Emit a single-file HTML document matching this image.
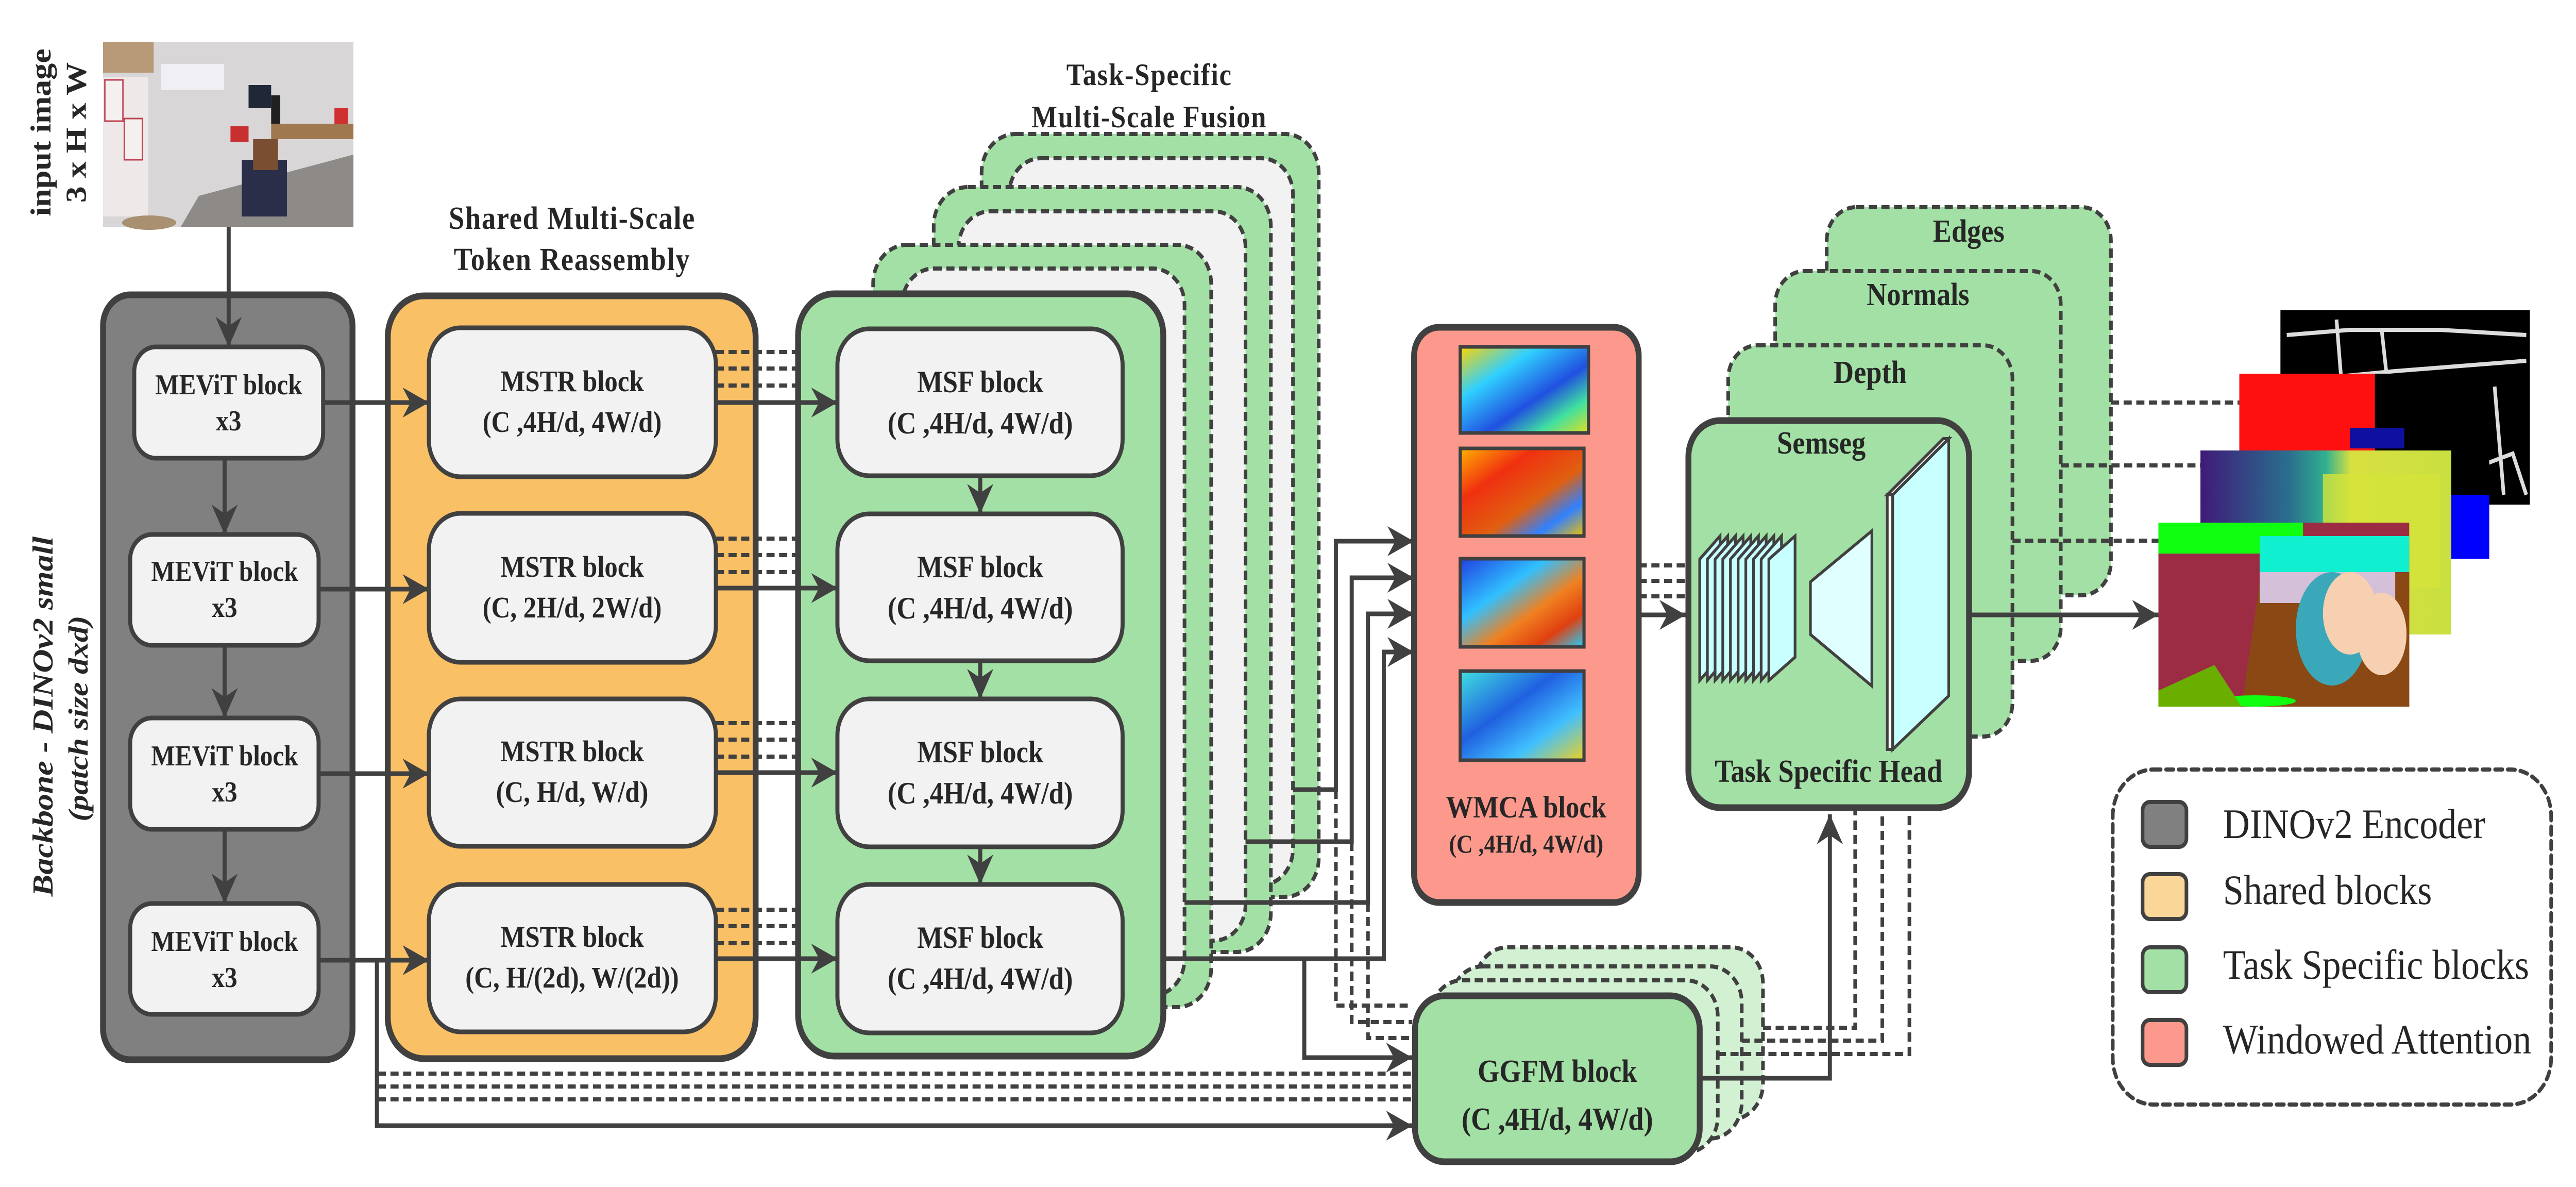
<!DOCTYPE html>
<html><head><meta charset="utf-8"><style>
html,body{margin:0;padding:0;background:#fff;width:100%;height:100%;overflow:hidden;}
svg{display:block;width:100vw;height:100vh;}
text{font-family:"Liberation Serif",serif;fill:#262626;}
.b{font-weight:bold;}
</style></head><body>
<svg viewBox="0 0 5700 2303" preserveAspectRatio="none" xmlns="http://www.w3.org/2000/svg">
<defs>
<marker id="a" viewBox="0 0 10 10" refX="10" refY="5" markerWidth="58" markerHeight="58" markerUnits="userSpaceOnUse" orient="auto"><path d="M0,0 L10,5 L0,10 L3,5z" fill="#404040"/></marker>
<linearGradient id="jet1" x1="0" y1="0" x2="1" y2="1"><stop offset="0" stop-color="#ffd400"/><stop offset="0.3" stop-color="#30d0ff"/><stop offset="0.6" stop-color="#2050e0"/><stop offset="0.8" stop-color="#40e0a0"/><stop offset="1" stop-color="#e0e020"/></linearGradient>
<linearGradient id="jet2" x1="0" y1="0" x2="1" y2="1"><stop offset="0" stop-color="#ffb000"/><stop offset="0.3" stop-color="#f03010"/><stop offset="0.6" stop-color="#e06010"/><stop offset="0.8" stop-color="#3080ff"/><stop offset="1" stop-color="#f0c000"/></linearGradient>
<linearGradient id="jet3" x1="0" y1="0" x2="1" y2="1"><stop offset="0" stop-color="#2040e0"/><stop offset="0.35" stop-color="#30c0ff"/><stop offset="0.6" stop-color="#f08020"/><stop offset="0.8" stop-color="#e04010"/><stop offset="1" stop-color="#20d0ff"/></linearGradient>
<linearGradient id="jet4" x1="0" y1="0" x2="1" y2="1"><stop offset="0" stop-color="#40e0e0"/><stop offset="0.4" stop-color="#2060e0"/><stop offset="0.7" stop-color="#40c0ff"/><stop offset="1" stop-color="#f0d020"/></linearGradient>
<linearGradient id="dep" x1="0" y1="0" x2="1" y2="0"><stop offset="0" stop-color="#3f1a78"/><stop offset="0.35" stop-color="#2a6e8e"/><stop offset="0.5" stop-color="#30b090"/><stop offset="0.6" stop-color="#d8e040"/><stop offset="1" stop-color="#c8e040"/></linearGradient>
</defs>

<!-- input image -->
<rect x="228" y="81" width="554" height="359" fill="#d9d6d8"/>
<rect x="228" y="81" width="112" height="60" fill="#b89a78"/>
<rect x="228" y="150" width="100" height="270" fill="#eee8e8"/>
<rect x="232" y="155" width="40" height="80" fill="#f4f0f0" stroke="#c04050" stroke-width="3"/>
<rect x="275" y="230" width="40" height="80" fill="#f4f0f0" stroke="#c04050" stroke-width="3"/>
<rect x="356" y="124" width="140" height="50" fill="#f0f0f4"/>
<polygon points="440,380 782,300 782,440 400,440" fill="#8e8a88"/>
<rect x="550" y="165" width="50" height="45" fill="#202838"/>
<rect x="600" y="185" width="20" height="55" fill="#202020"/>
<rect x="535" y="310" width="100" height="110" fill="#2a2e48"/>
<rect x="560" y="270" width="55" height="60" fill="#7a4e30"/>
<rect x="510" y="245" width="40" height="30" fill="#c83030"/>
<rect x="600" y="240" width="182" height="30" fill="#a07850"/>
<rect x="740" y="210" width="30" height="30" fill="#d03030"/>
<ellipse cx="330" cy="432" rx="60" ry="14" fill="#a89070"/>
<text class="b" font-size="64" transform="translate(112,257) rotate(-90)" text-anchor="middle">input image</text>
<text class="b" font-size="64" transform="translate(190,257) rotate(-90)" text-anchor="middle">3 x H x W</text>

<text class="b" font-size="64" font-style="italic" transform="translate(116,1390) rotate(-90)" text-anchor="middle">Backbone - DINOv2 small</text>
<text class="b" font-size="62" font-style="italic" transform="translate(194,1394) rotate(-90)" text-anchor="middle">(patch size dxd)</text>

<rect x="228" y="572" width="552" height="1484" rx="60" fill="#808080" stroke="#404040" stroke-width="13"/>
<line x1="506" y1="440" x2="506" y2="673" stroke="#404040" stroke-width="9" marker-end="url(#a)"/>
<g fill="#f2f2f2" stroke="#404040" stroke-width="9">
<rect x="297" y="673" width="418" height="216" rx="48"/>
<rect x="288" y="1037" width="417" height="215" rx="48"/>
<rect x="288" y="1393" width="417" height="216" rx="48"/>
<rect x="288" y="1753" width="417" height="215" rx="48"/>
</g>
<g stroke="#404040" stroke-width="9">
<line x1="497" y1="889" x2="497" y2="1037" marker-end="url(#a)"/>
<line x1="497" y1="1252" x2="497" y2="1393" marker-end="url(#a)"/>
<line x1="497" y1="1609" x2="497" y2="1753" marker-end="url(#a)"/>
</g>
<g class="b" font-size="56" text-anchor="middle">
<text x="506" y="765">MEViT block</text><text x="506" y="835">x3</text>
<text x="497" y="1127">MEViT block</text><text x="497" y="1197">x3</text>
<text x="497" y="1485">MEViT block</text><text x="497" y="1555">x3</text>
<text x="497" y="1845">MEViT block</text><text x="497" y="1915">x3</text>
</g>

<text class="b" font-size="62" text-anchor="middle" x="1266" y="444" letter-spacing="2">Shared Multi-Scale</text>
<text class="b" font-size="62" text-anchor="middle" x="1266" y="524" letter-spacing="2">Token Reassembly</text>

<g stroke="#404040" stroke-width="8" fill="none">
<g stroke-dasharray="18 10">
<line x1="836" y1="2083" x2="3125" y2="2083"/>
<line x1="836" y1="2108" x2="3125" y2="2108"/>
<line x1="836" y1="2133" x2="3125" y2="2133"/>
</g>
<polyline points="715,1863 834,1863 834,2184 3125,2184" marker-end="url(#a)" stroke-width="9"/>
</g>

<rect x="858" y="574" width="814" height="1480" rx="80" fill="#f9c066" stroke="#404040" stroke-width="13"/>
<g stroke="#404040" stroke-width="9">
<line x1="715" y1="781" x2="949" y2="781" marker-end="url(#a)"/>
<line x1="705" y1="1143" x2="949" y2="1143" marker-end="url(#a)"/>
<line x1="705" y1="1501" x2="949" y2="1501" marker-end="url(#a)"/>
<line x1="705" y1="1863" x2="949" y2="1863" marker-end="url(#a)"/>
</g>
<g fill="#f2f2f2" stroke="#404040" stroke-width="9">
<rect x="949" y="636" width="635" height="289" rx="70"/>
<rect x="949" y="996" width="635" height="289" rx="70"/>
<rect x="949" y="1356" width="635" height="286" rx="70"/>
<rect x="949" y="1716" width="635" height="286" rx="70"/>
</g>
<g class="b" font-size="58" text-anchor="middle">
<text x="1266" y="759">MSTR block</text><text x="1266" y="838">(C ,4H/d, 4W/d)</text>
<text x="1266" y="1119">MSTR block</text><text x="1266" y="1198">(C, 2H/d, 2W/d)</text>
<text x="1266" y="1477">MSTR block</text><text x="1266" y="1556">(C, H/d, W/d)</text>
<text x="1266" y="1837">MSTR block</text><text x="1266" y="1916">(C, H/(2d), W/(2d))</text>
</g>

<g stroke="#404040" stroke-width="8" stroke-dasharray="18 10">
<line x1="1584" y1="683" x2="1770" y2="683"/><line x1="1584" y1="715" x2="1770" y2="715"/><line x1="1584" y1="748" x2="1770" y2="748"/>
<line x1="1584" y1="1045" x2="1770" y2="1045"/><line x1="1584" y1="1077" x2="1770" y2="1077"/><line x1="1584" y1="1110" x2="1770" y2="1110"/>
<line x1="1584" y1="1403" x2="1770" y2="1403"/><line x1="1584" y1="1435" x2="1770" y2="1435"/><line x1="1584" y1="1468" x2="1770" y2="1468"/>
<line x1="1584" y1="1765" x2="1770" y2="1765"/><line x1="1584" y1="1797" x2="1770" y2="1797"/><line x1="1584" y1="1830" x2="1770" y2="1830"/>
</g>

<text class="b" font-size="60" text-anchor="middle" x="2543" y="165" letter-spacing="2">Task-Specific</text>
<text class="b" font-size="60" text-anchor="middle" x="2543" y="247" letter-spacing="2">Multi-Scale Fusion</text>

<g stroke="#404040" stroke-width="8" stroke-dasharray="18 10">
<rect x="2172" y="260" width="746" height="1480" rx="75" fill="#a3e0a5"/>
<rect x="2233" y="307" width="628" height="1410" rx="70" fill="#f2f2f2"/>
<rect x="2066" y="363" width="746" height="1484" rx="75" fill="#a3e0a5"/>
<rect x="2121" y="410" width="635" height="1415" rx="70" fill="#f2f2f2"/>
<rect x="1932" y="475" width="748" height="1479" rx="75" fill="#a3e0a5"/>
<rect x="1996" y="521" width="625" height="1410" rx="70" fill="#f2f2f2"/>
</g>

<g stroke="#404040" stroke-width="8" fill="none" stroke-dasharray="18 10">
<polyline points="2956,1532 2956,1951 3125,1951"/>
<polyline points="2991,1633 2991,1983 3125,1983"/>
<polyline points="3027,1751 3027,2014 3125,2014"/>
</g>
<g stroke="#404040" stroke-width="9" fill="none">
<polyline points="2861,1532 2956,1532 2956,1050 3128,1050" marker-end="url(#a)"/>
<polyline points="2756,1633 2991,1633 2991,1121 3128,1121" marker-end="url(#a)"/>
<polyline points="2621,1751 3027,1751 3027,1191 3128,1191" marker-end="url(#a)"/>
<polyline points="2484,1860 3062,1860 3062,1265 3128,1265" marker-end="url(#a)"/>
<polyline points="2886,1860 2886,2052 3125,2052" marker-end="url(#a)"/>
</g>

<rect x="1766" y="570" width="808" height="1479" rx="80" fill="#a3e0a5" stroke="#404040" stroke-width="13"/>
<g stroke="#404040" stroke-width="9">
<line x1="1584" y1="781" x2="1853" y2="781" marker-end="url(#a)"/>
<line x1="1584" y1="1141" x2="1853" y2="1141" marker-end="url(#a)"/>
<line x1="1584" y1="1499" x2="1853" y2="1499" marker-end="url(#a)"/>
<line x1="1584" y1="1860" x2="1853" y2="1860" marker-end="url(#a)"/>
<line x1="2169" y1="923" x2="2169" y2="997" marker-end="url(#a)"/>
<line x1="2169" y1="1282" x2="2169" y2="1356" marker-end="url(#a)"/>
<line x1="2169" y1="1643" x2="2169" y2="1716" marker-end="url(#a)"/>
</g>
<g fill="#f2f2f2" stroke="#404040" stroke-width="9">
<rect x="1853" y="638" width="631" height="285" rx="70"/>
<rect x="1853" y="997" width="631" height="285" rx="70"/>
<rect x="1853" y="1356" width="631" height="287" rx="70"/>
<rect x="1853" y="1716" width="631" height="288" rx="70"/>
</g>
<g class="b" font-size="60" text-anchor="middle">
<text x="2169" y="761">MSF block</text><text x="2169" y="841">(C ,4H/d, 4W/d)</text>
<text x="2169" y="1120">MSF block</text><text x="2169" y="1200">(C ,4H/d, 4W/d)</text>
<text x="2169" y="1479">MSF block</text><text x="2169" y="1559">(C ,4H/d, 4W/d)</text>
<text x="2169" y="1839">MSF block</text><text x="2169" y="1919">(C ,4H/d, 4W/d)</text>
</g>

<rect x="3129" y="635" width="497" height="1116" rx="55" fill="#fd998c" stroke="#404040" stroke-width="13"/>
<g stroke="#404040" stroke-width="7">
<rect x="3231" y="673" width="284" height="167" fill="url(#jet1)"/>
<rect x="3231" y="870" width="274" height="170" fill="url(#jet2)"/>
<rect x="3231" y="1084" width="274" height="171" fill="url(#jet3)"/>
<rect x="3231" y="1302" width="274" height="173" fill="url(#jet4)"/>
</g>
<text class="b" font-size="60" text-anchor="middle" x="3377" y="1586">WMCA block</text>
<text class="b" font-size="50" text-anchor="middle" x="3377" y="1654">(C ,4H/d, 4W/d)</text>

<g stroke="#404040" stroke-width="8" stroke-dasharray="18 10" fill="#d2f0d2">
<rect x="3265" y="1838" width="636" height="334" rx="70"/>
<rect x="3210" y="1875" width="644" height="334" rx="70"/>
<rect x="3165" y="1902" width="636" height="334" rx="70"/>
</g>
<rect x="3131" y="1932" width="630" height="322" rx="65" fill="#a3e0a5" stroke="#404040" stroke-width="13"/>
<text class="b" font-size="62" text-anchor="middle" x="3446" y="2099">GGFM block</text>
<text class="b" font-size="62" text-anchor="middle" x="3446" y="2192">(C ,4H/d, 4W/d)</text>

<g stroke="#404040" stroke-width="8" fill="none" stroke-dasharray="18 10">
<polyline points="3901,1994 4105,1994 4105,1573"/>
<polyline points="3854,2019 4165,2019 4165,1573"/>
<polyline points="3801,2045 4225,2045 4225,1573"/>
</g>
<polyline points="3761,2092 4049,2092 4049,1580" stroke="#404040" stroke-width="9" fill="none" marker-end="url(#a)"/>

<g stroke="#404040" stroke-width="8" stroke-dasharray="18 10" fill="#a3e0a5">
<rect x="4042" y="402" width="629" height="753" rx="65"/>
<rect x="3928" y="526" width="632" height="756" rx="65"/>
<rect x="3824" y="670" width="629" height="759" rx="65"/>
</g>
<g class="b" font-size="62" text-anchor="middle">
<text x="4356" y="469">Edges</text>
<text x="4244" y="592">Normals</text>
<text x="4138" y="743">Depth</text>
</g>
<g stroke="#404040" stroke-width="8" stroke-dasharray="18 10">
<line x1="3626" y1="1097" x2="3730" y2="1097"/>
<line x1="3626" y1="1127" x2="3730" y2="1127"/>
<line x1="3626" y1="1157" x2="3730" y2="1157"/>
</g>
<line x1="3626" y1="1193" x2="3730" y2="1193" stroke="#404040" stroke-width="9" marker-end="url(#a)"/>
<rect x="3736" y="816" width="621" height="751" rx="70" fill="#a3e0a5" stroke="#404040" stroke-width="13"/>
<text class="b" font-size="62" text-anchor="middle" x="4030" y="880">Semseg</text>
<text class="b" font-size="62" text-anchor="middle" x="4046" y="1517">Task Specific Head</text>
<g stroke="#404040" stroke-width="6" fill="#c8ffff">
<polygon points="3761,1085 3806,1040 3806,1275 3761,1320"/>
<polygon points="3778,1085 3823,1040 3823,1275 3778,1320"/>
<polygon points="3795,1085 3840,1040 3840,1275 3795,1320"/>
<polygon points="3812,1085 3857,1040 3857,1275 3812,1320"/>
<polygon points="3829,1085 3874,1040 3874,1275 3829,1320"/>
<polygon points="3846,1085 3891,1040 3891,1275 3846,1320"/>
<polygon points="3863,1085 3908,1040 3908,1275 3863,1320"/>
<polygon points="3880,1085 3925,1040 3925,1275 3880,1320"/>
<polygon points="3897,1085 3942,1040 3942,1275 3897,1320"/>
<polygon points="3914,1085 3972,1040 3972,1275 3914,1320"/>
<polygon points="4006,1129 4142,1030 4142,1331 4006,1231" fill="#e0ffff"/>
<polygon points="4176,960 4188,960 4188,1454 4176,1454" fill="#ffffff"/>
<polygon points="4188,960 4312,851 4312,1350 4188,1454"/>
<polygon points="4176,960 4300,851 4312,851 4188,960" fill="#ffffff"/>
</g>

<g stroke="#404040" stroke-width="8" stroke-dasharray="18 10">
<line x1="4671" y1="781" x2="5046" y2="781"/>
<line x1="4560" y1="903" x2="4955" y2="903"/>
<line x1="4453" y1="1049" x2="4869" y2="1049"/>
</g>
<line x1="4363" y1="1193" x2="4776" y2="1193" stroke="#404040" stroke-width="9" marker-end="url(#a)"/>

<rect x="5046" y="602" width="552" height="377" fill="#000"/>
<g stroke="#dddddd" stroke-width="8" fill="none">
<polyline points="5060,650 5200,640 5400,640 5590,650"/>
<polyline points="5170,620 5180,730 5300,720 5590,700"/>
<polyline points="5270,640 5290,800 5400,800 5500,780"/>
<polyline points="5470,820 5500,900 5560,880 5590,960"/>
<polyline points="5520,750 5540,960"/>
</g>
<rect x="4955" y="725" width="553" height="359" fill="#000"/>
<rect x="4955" y="725" width="300" height="250" fill="#ff1010"/>
<rect x="5300" y="960" width="208" height="124" fill="#0000ff"/>
<rect x="5200" y="830" width="120" height="40" fill="#1010a0"/>
<rect x="4869" y="874" width="555" height="357" fill="url(#dep)"/>
<rect x="5140" y="920" width="260" height="220" fill="#d4e43a" opacity="0.8"/>
<rect x="4776" y="1014" width="555" height="357" fill="#9c2c44"/>
<rect x="4776" y="1014" width="320" height="60" fill="#10ff10"/>
<rect x="5000" y="1040" width="331" height="70" fill="#10f0d0"/>
<polygon points="5000,1130 5331,1110 5331,1371 4960,1371" fill="#8a4814"/>
<rect x="5000" y="1110" width="300" height="60" fill="#d4c0d8"/>
<ellipse cx="5160" cy="1220" rx="80" ry="110" fill="#3aa8b8"/>
<ellipse cx="5200" cy="1190" rx="60" ry="80" fill="#f6d0b0"/>
<ellipse cx="5270" cy="1230" rx="55" ry="80" fill="#f6d0b0"/>
<ellipse cx="4990" cy="1360" rx="90" ry="11" fill="#10ff10"/>
<polygon points="4776,1340 4900,1290 4960,1371 4776,1371" fill="#6aae00"/>

<rect x="4675" y="1493" width="970" height="650" rx="90" fill="#fff" stroke="#404040" stroke-width="8" stroke-dasharray="16 12" stroke-linecap="round"/>
<g stroke="#404040" stroke-width="8">
<rect x="4741" y="1556" width="97" height="87" rx="16" fill="#808080"/>
<rect x="4741" y="1696" width="97" height="87" rx="16" fill="#fbd699"/>
<rect x="4741" y="1838" width="97" height="87" rx="16" fill="#a3e0a5"/>
<rect x="4741" y="1979" width="97" height="87" rx="16" fill="#fd998c"/>
</g>
<g font-size="82">
<text x="4919" y="1626">DINOv2 Encoder</text>
<text x="4919" y="1754">Shared blocks</text>
<text x="4919" y="1899">Task Specific blocks</text>
<text x="4919" y="2044">Windowed Attention</text>
</g>
</svg>
</body></html>
